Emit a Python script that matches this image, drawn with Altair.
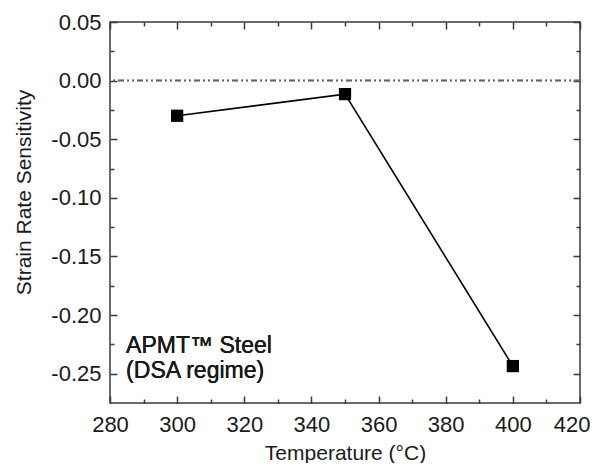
import altair as alt
import pandas as pd

# ---- data ----
temperature = [300, 350, 400]
sensitivity = [-0.030, -0.0115, -0.2435]
x_major = [280, 300, 320, 340, 360, 380, 400, 420]
x_minor = [290, 310, 330, 350, 370, 390, 410]
y_major = [0.05, 0.0, -0.05, -0.10, -0.15, -0.20, -0.25]
y_minor = [0.025, -0.025, -0.075, -0.125, -0.175, -0.225]
note_lines = ["APMT™ Steel", "(DSA regime)"]

W, H = 470, 381
FONT = "Liberation Sans"
INK = "#1a1a1a"
FRAME = "#3a3a3a"

df = pd.DataFrame({"T": temperature, "S": sensitivity})

xs = alt.Scale(domain=[280, 420], nice=False, zero=False)
ys = alt.Scale(domain=[-0.275, 0.05], nice=False, zero=False)

label_x = alt.Axis(
    title="Temperature (°C)", values=x_major, ticks=False, domain=False, grid=False,
    labelFontSize=22, titleFontSize=21, labelFont=FONT, titleFont=FONT,
    labelColor=INK, titleColor=INK, titleFontWeight="normal",
    labelPadding=11, titlePadding=7, labelFlush=False, labelOverlap=False, format="d",
    labelAlign={"condition": {"test": "datum.value >= 420", "value": "right"}, "value": "center"},
    labelOffset={"condition": {"test": "datum.value >= 420", "value": 10}, "value": 0},
)
label_y = alt.Axis(
    title="Strain Rate Sensitivity", values=y_major, ticks=False, domain=False, grid=False,
    labelFontSize=22, titleFontSize=21, labelFont=FONT, titleFont=FONT,
    labelColor=INK, titleColor=INK, titleFontWeight="normal",
    labelPadding=9, titlePadding=16, labelFlush=False, labelOverlap=False,
    labelExpr="replace(format(datum.value, '.2f'), '\u2212', '-')",
    titleY=170,
)


def tick_axis(orient, values, size):
    return alt.Axis(
        orient=orient, offset=-(H if orient in ("top", "bottom") else W),
        values=values, labels=False, title=None, domain=False, grid=False,
        ticks=True, tickSize=size, tickWidth=1.5, tickColor=FRAME,
    )


zero_line = alt.Chart(df).mark_rule(
    color="#666", strokeWidth=1.5, strokeDash=[6, 3, 2, 3, 2, 3]
).encode(y=alt.datum(0, scale=ys, axis=None))

line = alt.Chart(df).mark_line(color="black", strokeWidth=1.6).encode(
    x=alt.X("T:Q", scale=xs, axis=label_x),
    y=alt.Y("S:Q", scale=ys, axis=label_y),
)
points = alt.Chart(df).mark_point(
    shape="square", filled=True, color="black", size=150, opacity=1
).encode(
    x=alt.X("T:Q", scale=xs, axis=None),
    y=alt.Y("S:Q", scale=ys, axis=None),
)


def ghost(xax, yax):
    return alt.Chart(df).mark_point(opacity=0).encode(
        x=alt.X("T:Q", scale=xs, axis=xax),
        y=alt.Y("S:Q", scale=ys, axis=yax),
    )


g1 = ghost(tick_axis("top", x_major, 7), tick_axis("right", y_major, 7))
g2 = ghost(tick_axis("top", x_minor, 4), tick_axis("right", y_minor, 4))
g3 = ghost(tick_axis("bottom", x_major, 7), tick_axis("left", y_major, 7))
g4 = ghost(tick_axis("bottom", x_minor, 4), tick_axis("left", y_minor, 4))

note = alt.Chart(df).mark_text(
    text=note_lines, align="left", baseline="alphabetic", font=FONT,
    fontSize=23, color=INK, lineHeight=25,
).encode(
    x=alt.datum(284.8, scale=xs, axis=None),
    y=alt.datum(-0.2324, scale=ys, axis=None),
)

chart = alt.layer(line, zero_line, points, note, g1, g2, g3, g4).resolve_axis(
    x="independent", y="independent"
).properties(
    width=W, height=H,
    autosize=alt.AutoSizeParams(type="none"),
    padding={"left": 102, "top": 14, "right": 10, "bottom": 60},
).configure_view(stroke=FRAME, strokeWidth=1.5)

chart.save("out.html", embed_options={"renderer": "svg", "actions": False})
